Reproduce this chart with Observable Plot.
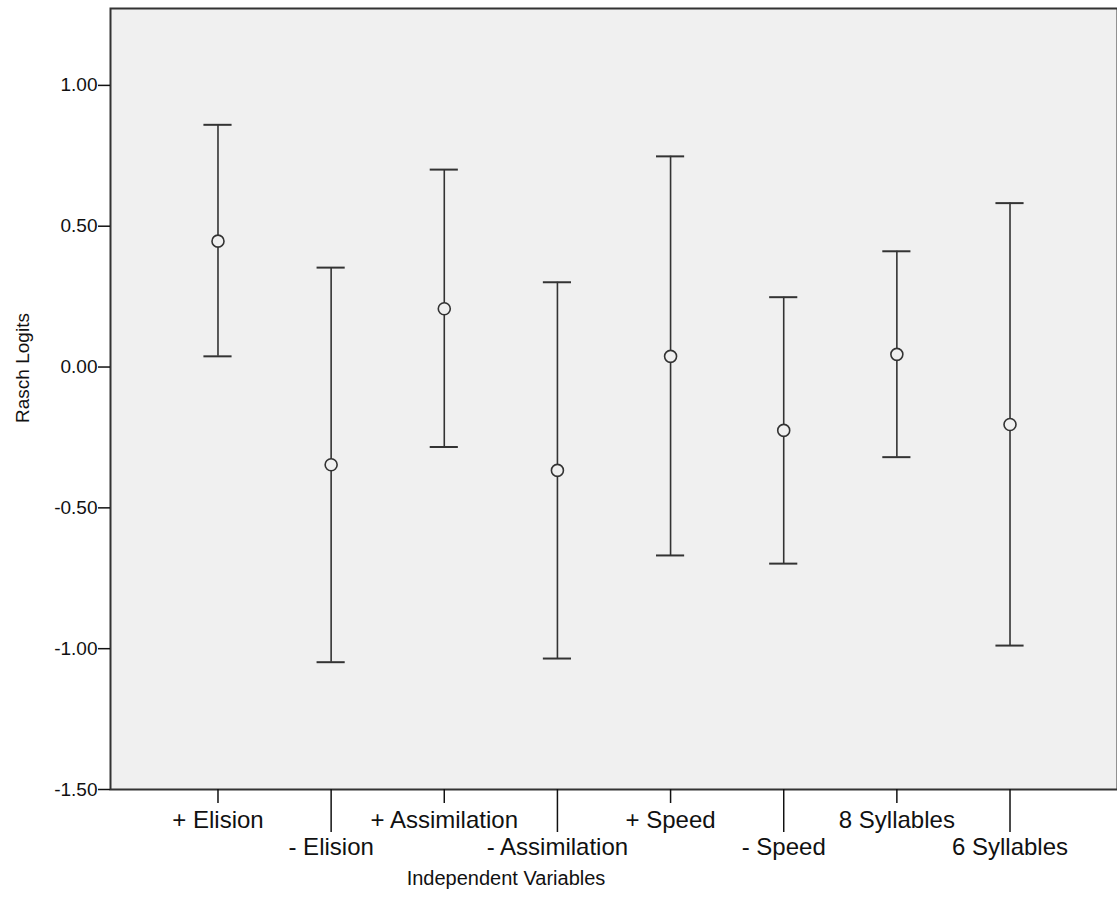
<!DOCTYPE html>
<html><head><meta charset="utf-8">
<script src="https://cdn.jsdelivr.net/npm/d3@7"></script>
<script src="https://cdn.jsdelivr.net/npm/@observablehq/plot@0.6"></script>
<style>body{margin:0;background:#fff} svg{display:block}</style>
</head><body><div id="chart"></div>
<script>
const categories = ["+ Elision","- Elision","+ Assimilation","- Assimilation","+ Speed","- Speed","8 Syllables","6 Syllables"];
const means = [0.447,-0.347,0.207,-0.367,0.038,-0.225,0.045,-0.204];
const upper = [0.860,0.353,0.701,0.301,0.748,0.248,0.411,0.582];
const lower = [0.038,-1.048,-0.284,-1.035,-0.669,-0.698,-0.320,-0.989];
const yTicks = [-1.5,-1,-0.5,0,0.5,1];
const yTitle = ["Rasch Logits"];
const xTitle = ["Independent Variables"];

const data = categories.map((c,i)=>({cat:c, mean:means[i], hi:upper[i], lo:lower[i]}));
const upperRow = categories.filter((d,i)=>i%2===0);
const lowerRow = categories.filter((d,i)=>i%2===1);
const ink = "#333";

const chart = Plot.plot({
  width: 1117, height: 924,
  marginLeft: 110, marginRight: 0, marginTop: 8, marginBottom: 135,
  style: {fontFamily: "'Liberation Sans', Arial, sans-serif", fontSize: "19px", color: "#111", background: "#fff"},
  x: {type: "band", domain: categories, paddingInner: 0, paddingOuter: 0.45, round: false},
  y: {domain: [-1.5, 1.273]},
  marks: [
    Plot.frame({fill: "#f0f0f0", stroke: ink, strokeWidth: 2}),
    Plot.axisY({ticks: yTicks, tickFormat: d => d.toFixed(2), tickSize: 12, tickPadding: 1, label: null, strokeWidth: 1.5, fontSize: 19}),
    Plot.axisX(upperRow, {tickSize: 14, tickPadding: 7, label: null, strokeWidth: 1.5, fontSize: 24}),
    Plot.axisX(lowerRow, {tickSize: 43, tickPadding: 5, label: null, strokeWidth: 1.5, fontSize: 24}),
    Plot.ruleX(data, {x: "cat", y1: "lo", y2: "hi", stroke: ink, strokeWidth: 1.6}),
    Plot.tickY(data, {x: "cat", y: "hi", insetLeft: 42.5, insetRight: 42.5, stroke: ink, strokeWidth: 2}),
    Plot.tickY(data, {x: "cat", y: "lo", insetLeft: 42.5, insetRight: 42.5, stroke: ink, strokeWidth: 2}),
    Plot.dot(data, {x: "cat", y: "mean", r: 6, stroke: ink, fill: "#f0f0f0", strokeWidth: 1.6}),
    Plot.text(yTitle, {frameAnchor: "left", rotate: -90, dx: -88, dy: -31, textAnchor: "middle", lineAnchor: "middle", fontSize: 19}),
    Plot.text(xTitle, {frameAnchor: "bottom", dx: -108, dy: 89, textAnchor: "middle", lineAnchor: "middle", fontSize: 20})
  ]
});
document.getElementById("chart").append(chart);
</script>
</body></html>
